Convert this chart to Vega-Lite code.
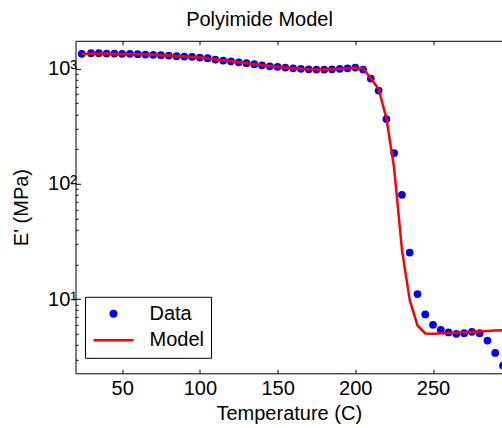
{
  "$schema": "https://vega.github.io/schema/vega-lite/v6.json",
  "width": 426.5,
  "height": 332.5,
  "autosize": {"type": "none"},
  "padding": {"left": 75.5, "top": 40.8, "right": 0, "bottom": 54.7},
  "background": "white",
  "config": {
    "view": {"stroke": null},
    "font": "Liberation Sans",
    "axis": {
      "grid": false,
      "domainColor": "black",
      "domainWidth": 1,
      "tickColor": "black",
      "tickWidth": 1,
      "labelColor": "black",
      "labelFont": "Liberation Sans",
      "labelFontSize": 20,
      "titleFont": "Liberation Sans",
      "titleFontSize": 20,
      "titleFontWeight": "normal",
      "titleColor": "black"
    }
  },
  "title": {
    "text": "Polyimide Model",
    "font": "Liberation Sans",
    "fontSize": 20,
    "fontWeight": "normal",
    "color": "black",
    "anchor": "middle",
    "frame": "bounds",
    "baseline": "alphabetic",
    "offset": 16,
    "dx": 3,
    "dy": 22
  },
  "data": {
    "values": [
      {"series": "Data", "T": 24, "E": 1342},
      {"series": "Data", "T": 30, "E": 1358},
      {"series": "Data", "T": 35, "E": 1358},
      {"series": "Data", "T": 40, "E": 1350},
      {"series": "Data", "T": 45, "E": 1350},
      {"series": "Data", "T": 50, "E": 1342},
      {"series": "Data", "T": 55, "E": 1342},
      {"series": "Data", "T": 60, "E": 1331},
      {"series": "Data", "T": 65, "E": 1323},
      {"series": "Data", "T": 70, "E": 1315},
      {"series": "Data", "T": 75, "E": 1305},
      {"series": "Data", "T": 80, "E": 1297},
      {"series": "Data", "T": 85, "E": 1279},
      {"series": "Data", "T": 90, "E": 1271},
      {"series": "Data", "T": 95, "E": 1264},
      {"series": "Data", "T": 100, "E": 1246},
      {"series": "Data", "T": 105, "E": 1229},
      {"series": "Data", "T": 110, "E": 1198},
      {"series": "Data", "T": 115, "E": 1174},
      {"series": "Data", "T": 120, "E": 1157},
      {"series": "Data", "T": 125, "E": 1134},
      {"series": "Data", "T": 130, "E": 1112},
      {"series": "Data", "T": 135, "E": 1090},
      {"series": "Data", "T": 140, "E": 1068},
      {"series": "Data", "T": 145, "E": 1047},
      {"series": "Data", "T": 150, "E": 1035},
      {"series": "Data", "T": 155, "E": 1020},
      {"series": "Data", "T": 160, "E": 1006},
      {"series": "Data", "T": 165, "E": 994},
      {"series": "Data", "T": 170, "E": 986},
      {"series": "Data", "T": 175, "E": 980},
      {"series": "Data", "T": 180, "E": 980},
      {"series": "Data", "T": 185, "E": 986},
      {"series": "Data", "T": 190, "E": 994},
      {"series": "Data", "T": 195, "E": 1006},
      {"series": "Data", "T": 200, "E": 1020},
      {"series": "Data", "T": 205, "E": 980},
      {"series": "Data", "T": 210, "E": 819},
      {"series": "Data", "T": 215, "E": 644},
      {"series": "Data", "T": 220, "E": 365},
      {"series": "Data", "T": 225, "E": 185},
      {"series": "Data", "T": 230, "E": 80.2},
      {"series": "Data", "T": 235, "E": 25.3},
      {"series": "Data", "T": 240, "E": 11.05},
      {"series": "Data", "T": 245, "E": 7.36},
      {"series": "Data", "T": 250, "E": 5.98},
      {"series": "Data", "T": 255, "E": 5.41},
      {"series": "Data", "T": 260, "E": 5.13},
      {"series": "Data", "T": 265, "E": 4.99},
      {"series": "Data", "T": 270, "E": 5.06},
      {"series": "Data", "T": 275, "E": 5.2},
      {"series": "Data", "T": 280, "E": 5.06},
      {"series": "Data", "T": 285, "E": 4.37},
      {"series": "Data", "T": 290, "E": 3.41},
      {"series": "Data", "T": 295, "E": 2.65},
      {"series": "Model", "T": 24, "E": 1340},
      {"series": "Model", "T": 30, "E": 1345},
      {"series": "Model", "T": 40, "E": 1345},
      {"series": "Model", "T": 50, "E": 1340},
      {"series": "Model", "T": 60, "E": 1330},
      {"series": "Model", "T": 70, "E": 1315},
      {"series": "Model", "T": 80, "E": 1295},
      {"series": "Model", "T": 90, "E": 1272},
      {"series": "Model", "T": 100, "E": 1246},
      {"series": "Model", "T": 110, "E": 1200},
      {"series": "Model", "T": 120, "E": 1157},
      {"series": "Model", "T": 130, "E": 1112},
      {"series": "Model", "T": 140, "E": 1068},
      {"series": "Model", "T": 150, "E": 1035},
      {"series": "Model", "T": 160, "E": 1006},
      {"series": "Model", "T": 170, "E": 986},
      {"series": "Model", "T": 180, "E": 982},
      {"series": "Model", "T": 190, "E": 994},
      {"series": "Model", "T": 200, "E": 1015},
      {"series": "Model", "T": 205, "E": 1000},
      {"series": "Model", "T": 210, "E": 820},
      {"series": "Model", "T": 215, "E": 665},
      {"series": "Model", "T": 220, "E": 372},
      {"series": "Model", "T": 225, "E": 136},
      {"series": "Model", "T": 230, "E": 27},
      {"series": "Model", "T": 235, "E": 9.8},
      {"series": "Model", "T": 240, "E": 5.9},
      {"series": "Model", "T": 245, "E": 5.03},
      {"series": "Model", "T": 250, "E": 4.99},
      {"series": "Model", "T": 260, "E": 5.08},
      {"series": "Model", "T": 270, "E": 5.16},
      {"series": "Model", "T": 280, "E": 5.24},
      {"series": "Model", "T": 290, "E": 5.33},
      {"series": "Model", "T": 300, "E": 5.42}
    ]
  },
  "layer": [
    {
      "transform": [{"filter": "datum.series === 'Data'"}],
      "mark": {"type": "point", "filled": true, "size": 60, "opacity": 1, "clip": true},
      "encoding": {
        "x": {
          "field": "T", "type": "quantitative",
          "scale": {"domain": [20, 294.37], "nice": false, "zero": false},
          "axis": {
            "orient": "bottom",
            "values": [50, 100, 150, 200, 250],
            "tickSize": -4,
            "labelPadding": 9,
            "title": "Temperature (C)",
            "titleBaseline": "alphabetic",
            "titleY": 46
          }
        },
        "y": {
          "field": "E", "type": "quantitative",
          "scale": {"type": "log", "domain": [2.27, 1741], "nice": false},
          "axis": {
            "orient": "left",
            "values": [3, 4, 5, 6, 7, 8, 9, 10, 20, 30, 40, 50, 60, 70, 80, 90, 100, 200, 300, 400, 500, 600, 700, 800, 900, 1000],
            "labelExpr": "datum.value === 1000 ? '10³' : datum.value === 100 ? '10²' : datum.value === 10 ? '10¹' : ''",
            "tickSize": {"condition": {"test": "indexof([10, 100, 1000], datum.value) >= 0", "value": -5}, "value": -2.5},
            "labelPadding": 4,
            "title": "E' (MPa)",
            "titleBaseline": "alphabetic",
            "titleX": -48.5
          }
        },
        "color": {
          "field": "series", "type": "nominal",
          "scale": {"domain": ["Data", "Model"], "range": ["#0000ff", "#ff0000"]},
          "legend": {
            "title": null,
            "orient": "none",
            "legendX": 9.5,
            "legendY": 256,
            "labelFont": "Liberation Sans",
            "labelFontSize": 20,
            "labelColor": "black",
            "strokeColor": "black",
            "fillColor": "white",
            "padding": 7,
            "symbolSize": 64,
            "symbolOffset": 11.5,
            "labelOffset": 26,
            "rowPadding": 6.5,
            "symbolOpacity": 1,
            "encode": {
              "symbols": {
                "update": {
                  "shape": {"signal": "datum.value === 'Model' ? 'M-5,0L5,0' : 'circle'"},
                  "stroke": {"signal": "datum.value === 'Model' ? '#ff0000' : '#0000ff'"},
                  "strokeWidth": {"signal": "datum.value === 'Model' ? 2.5 : 0"},
                  "fill": {"signal": "datum.value === 'Model' ? 'transparent' : '#0000ff'"}
                }
              }
            }
          }
        }
      }
    },
    {
      "transform": [{"filter": "datum.series === 'Model'"}],
      "mark": {"type": "line", "color": "#ff0000", "strokeWidth": 2.5, "clip": true},
      "encoding": {
        "x": {
          "field": "T", "type": "quantitative",
          "scale": {"domain": [20, 294.37], "nice": false, "zero": false},
          "axis": {
            "orient": "top",
            "values": [50, 100, 150, 200, 250],
            "tickSize": -4,
            "labels": false,
            "title": null
          }
        },
        "y": {
          "field": "E", "type": "quantitative",
          "scale": {"type": "log", "domain": [2.27, 1741], "nice": false},
          "axis": {
            "orient": "left",
            "values": [3, 4, 5, 6, 7, 8, 9, 10, 20, 30, 40, 50, 60, 70, 80, 90, 100, 200, 300, 400, 500, 600, 700, 800, 900, 1000],
            "labelExpr": "datum.value === 1000 ? '10³' : datum.value === 100 ? '10²' : datum.value === 10 ? '10¹' : ''",
            "tickSize": {"condition": {"test": "indexof([10, 100, 1000], datum.value) >= 0", "value": -5}, "value": -2.5},
            "labelPadding": 4,
            "title": "E' (MPa)",
            "titleBaseline": "alphabetic",
            "titleX": -48.5
          }
        }
      }
    }
  ],
  "resolve": {"axis": {"x": "independent"}}
}
